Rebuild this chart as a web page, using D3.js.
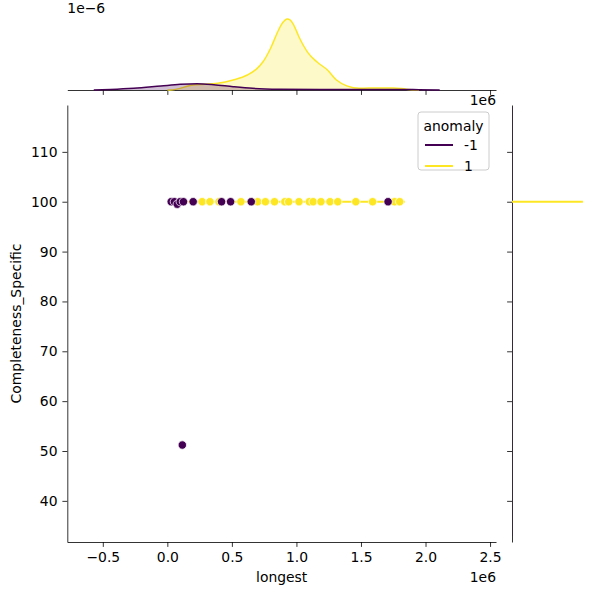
<!DOCTYPE html>
<html><head><meta charset="utf-8">
<script src="https://cdn.jsdelivr.net/npm/d3@7"></script>
<style>body{margin:0;background:#fff}text{font-family:"DejaVu Sans",sans-serif}</style>
</head><body><svg id="c" width="600" height="600"></svg>
<script>
// ---- data (x in units of 1e6) ----
const hueLevels = ["-1", "1"];
const hueColors = ["#440154", "#fde725"];
const anomX = [0.03, 0.055, 0.077, 0.10, 0.116, 0.125, 0.20, 0.42, 0.49, 0.65, 1.71];
const anomY = [100, 100, 99.5, 100, 51.2, 100, 100, 100, 100, 100, 100];
const normX = [0.27, 0.33, 0.40, 0.57, 0.70, 0.76, 0.83, 0.91, 0.94, 1.02, 1.10, 1.13, 1.19, 1.26, 1.32, 1.46, 1.59, 1.76, 1.80];
const normY = [100, 100, 100, 100, 100, 100, 100, 100, 100, 100, 100, 100, 100, 100, 100, 100, 100, 100, 100];
const normLineX = [0.03, 1.84];
// marginal densities (x in 1e6, density in 1e-6)
const kdeNormX = [0.00, 0.02, 0.20, 0.39, 0.51, 0.62, 0.69, 0.74, 0.80, 0.85, 0.88, 0.91, 0.93, 0.95, 0.98, 1.02, 1.09, 1.16, 1.24, 1.31, 1.39, 1.49, 1.64, 1.75, 1.85, 1.95];
const kdeNormD = [0.00, 0.00, 0.12, 0.16, 0.24, 0.36, 0.50, 0.67, 1.00, 1.36, 1.55, 1.67, 1.70, 1.68, 1.55, 1.27, 0.89, 0.67, 0.48, 0.24, 0.10, 0.04, 0.05, 0.05, 0.02, 0.00];
const kdeAnomX = [-0.57, -0.44, -0.26, -0.05, 0.10, 0.23, 0.36, 0.51, 0.66, 0.87, 1.18, 1.49, 1.72, 1.95, 2.11];
const kdeAnomD = [0.00, 0.012, 0.04, 0.096, 0.136, 0.15, 0.127, 0.079, 0.04, 0.019, 0.012, 0.012, 0.014, 0.007, 0.00];
const kdeYNormY = [100, 100];
const kdeYNormD = [0, 1.0];
const kdeYAnomY = [33, 119];
const kdeYAnomD = [0.012, 0.012];
const xTicks = [-0.5, 0, 0.5, 1.0, 1.5, 2.0, 2.5];
const yTicks = [40, 50, 60, 70, 80, 90, 100, 110];

const svg = d3.select("#c");
const FS = 13.9;
const L = 67.3, R = 496, T = 105, B = 542;
const x = d3.scaleLinear().domain([-0.775, 2.546]).range([L, R]);
const y = d3.scaleLinear().domain([31.75, 119.4]).range([B, T]);
const topY = d3.scaleLinear().domain([0, 1.70 * 1.05]).range([90, 15.5]);
const rightX = d3.scaleLinear().domain([0, 1.05]).range([512, 586.5]);
const fmtX = d => (d < 0 ? "\u2212" : "") + Math.abs(d).toFixed(1);

function styleAxis(g) {
  g.select(".domain").attr("stroke", "#000").attr("stroke-width", 0.8);
  g.selectAll(".tick line").attr("stroke", "#000").attr("stroke-width", 0.8);
  g.selectAll(".tick text").attr("font-size", FS).attr("fill", "#000").attr("font-family", "DejaVu Sans");
}

// main axes
const gx = svg.append("g").attr("transform", `translate(0,${B})`)
  .call(d3.axisBottom(x).tickValues(xTicks).tickFormat(fmtX).tickSize(4.9).tickSizeOuter(0).tickPadding(4.9));
styleAxis(gx);
const gy = svg.append("g").attr("transform", `translate(${L},0)`)
  .call(d3.axisLeft(y).tickValues(yTicks).tickFormat(d3.format("d")).tickSize(4.9).tickSizeOuter(0).tickPadding(4.9));
styleAxis(gy);

// top marginal axis
const gtx = svg.append("g").attr("transform", `translate(0,90)`)
  .call(d3.axisBottom(x).tickValues(xTicks).tickFormat("").tickSize(4.9).tickSizeOuter(0));
styleAxis(gtx);
// right marginal axis
const gry = svg.append("g").attr("transform", `translate(512,0)`)
  .call(d3.axisLeft(y).tickValues(yTicks).tickFormat("").tickSize(4.9).tickSizeOuter(0));
styleAxis(gry);

// top marginal KDEs
const kdeSets = [
  {xs: kdeNormX, ds: kdeNormD, c: hueColors[1]},
  {xs: kdeAnomX, ds: kdeAnomD, c: hueColors[0]}
];
kdeSets.forEach(s => {
  const pts = s.xs.map((v, i) => [v, s.ds[i]]);
  const area = d3.area().curve(d3.curveMonotoneX).x(d => x(d[0])).y0(topY(0)).y1(d => topY(d[1]));
  const line = d3.line().curve(d3.curveMonotoneX).x(d => x(d[0])).y(d => topY(d[1]));
  svg.append("path").attr("d", area(pts)).attr("fill", s.c).attr("fill-opacity", 0.25);
  svg.append("path").attr("d", line(pts)).attr("fill", "none").attr("stroke", s.c).attr("stroke-width", 1.5);
});

// right marginal
{
  const pa = kdeYAnomY.map((v, i) => [v, kdeYAnomD[i]]);
  const ar = d3.area().x0(rightX(0)).x1(d => rightX(d[1])).y(d => y(d[0]));
  svg.append("path").attr("d", ar(pa)).attr("fill", hueColors[0]).attr("fill-opacity", 0.25);
  const pn = kdeYNormY.map((v, i) => [v, kdeYNormD[i]]);
  svg.append("path").attr("d", d3.line().x(d => rightX(d[1])).y(d => y(d[0]))(pn))
    .attr("fill", "none").attr("stroke", hueColors[1]).attr("stroke-width", 2);
}

// main scatter
svg.append("path").attr("d", d3.line().x(d => x(d)).y(y(100))(normLineX))
  .attr("stroke", hueColors[1]).attr("stroke-width", 2).attr("fill", "none");
const pts = [];
normX.forEach((v, i) => pts.push({x: v, y: normY[i], c: hueColors[1]}));
anomX.forEach((v, i) => pts.push({x: v, y: anomY[i], c: hueColors[0]}));
svg.append("g").selectAll("circle").data(pts).join("circle")
  .attr("cx", d => x(d.x)).attr("cy", d => y(d.y)).attr("r", 4.2)
  .attr("fill", d => d.c).attr("stroke", "#fff").attr("stroke-width", 0.75);

// labels
svg.append("text").attr("x", (L + R) / 2).attr("y", 582).attr("text-anchor", "middle").attr("font-size", FS).text("longest");
svg.append("text").attr("transform", `translate(21,${(T + B) / 2}) rotate(-90)`).attr("text-anchor", "middle").attr("font-size", FS).text("Completeness_Specific");
svg.append("text").attr("x", R).attr("y", 582).attr("text-anchor", "end").attr("font-size", FS).text("1e6");
svg.append("text").attr("x", R).attr("y", 105).attr("text-anchor", "end").attr("font-size", FS).text("1e6");
svg.append("text").attr("x", L).attr("y", 13).attr("text-anchor", "start").attr("font-size", FS).text("1e\u22126");

// legend
const lg = svg.append("g");
lg.append("rect").attr("x", 418).attr("y", 112).attr("width", 71).attr("height", 58).attr("rx", 3)
  .attr("fill", "#fff").attr("fill-opacity", 0.8).attr("stroke", "#ccc").attr("stroke-width", 1);
lg.append("text").attr("x", 453.5).attr("y", 131).attr("text-anchor", "middle").attr("font-size", FS).text("anomaly");
hueLevels.forEach((lab, i) => {
  const yy = 145 + i * 21;
  lg.append("line").attr("x1", 425).attr("x2", 453).attr("y1", yy).attr("y2", yy)
    .attr("stroke", hueColors[i]).attr("stroke-width", 2);
  lg.append("text").attr("x", 464).attr("y", yy + 5).attr("font-size", FS).text(lab);
});
</script></body></html>
